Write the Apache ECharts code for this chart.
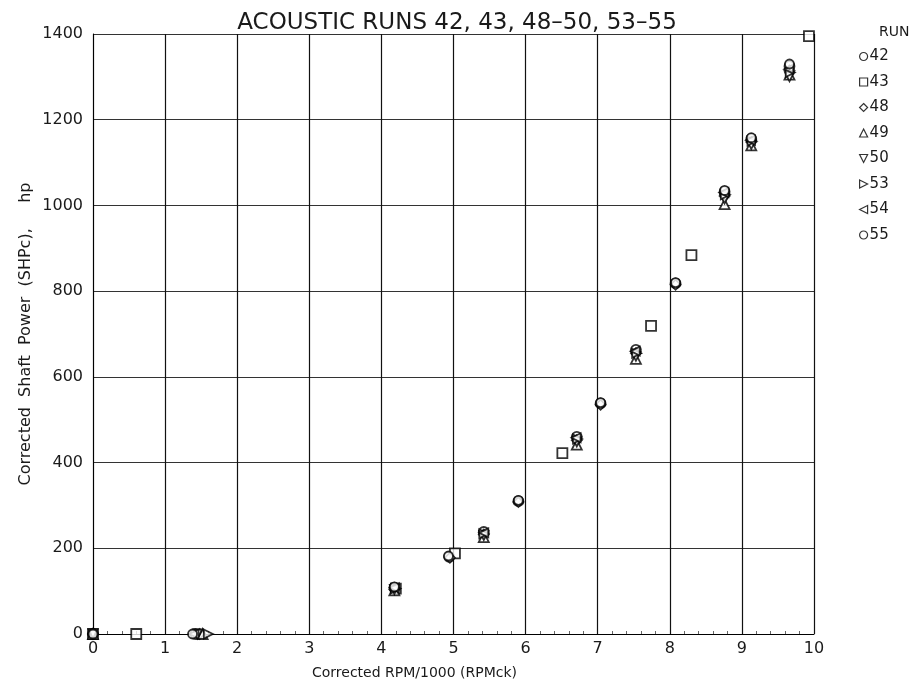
<!DOCTYPE html>
<html>
<head>
<meta charset="utf-8">
<script src="https://cdn.jsdelivr.net/npm/echarts@6/dist/echarts.min.js"></script>
<style>
  html, body { margin: 0; padding: 0; background: #fff; }
  #chart { width: 912px; height: 689px; }
</style>
</head>
<body>
<div id="chart"></div>
<script>
// run numbers, in legend order
const runs = ['42', '43', '48', '49', '50', '53', '54', '55'];

// [RPM/1000, SHPc], one list per run
const run42 = [[0, 0], [1.42, 0], [4.18, 108], [4.94, 180], [5.42, 238], [5.90, 310], [6.71, 460], [7.04, 538], [7.53, 663], [8.08, 818], [8.76, 1032], [9.13, 1155], [9.66, 1325]];
const run43 = [[0, 0], [0.60, 0], [4.20, 106], [5.02, 188], [6.51, 422], [7.74, 719], [8.30, 884], [9.93, 1395]];
const run48 = [[0, 0], [1.48, 0], [4.18, 104], [4.95, 178], [5.42, 232], [5.90, 308], [6.71, 452], [7.04, 535], [7.53, 655], [8.08, 815], [8.76, 1022], [9.13, 1148], [9.66, 1315]];
const run49 = [[0, 0], [1.52, 0], [4.18, 102], [5.42, 226], [6.71, 442], [7.53, 642], [8.76, 1003], [9.13, 1140], [9.66, 1305]];
const run50 = [[0, 0], [1.45, 0], [4.18, 104], [5.42, 230], [6.71, 448], [7.53, 648], [8.76, 1015], [9.13, 1142], [9.66, 1300]];
const run53 = [[1.60, 0], [4.20, 106], [5.42, 234], [6.72, 455], [7.54, 655], [8.77, 1025], [9.14, 1150], [9.67, 1310]];
const run54 = [[1.40, 0], [4.18, 108], [5.42, 236], [6.70, 458], [7.52, 660], [8.75, 1030], [9.12, 1152], [9.65, 1318]];
const run55 = [[0, 0], [1.38, 0], [4.18, 110], [4.93, 182], [5.90, 312], [7.04, 540], [8.08, 820], [8.76, 1035], [9.13, 1158], [9.66, 1330]];

const runData = [run42, run43, run48, run49, run50, run53, run54, run55];

const xTicks = [0, 1, 2, 3, 4, 5, 6, 7, 8, 9, 10];
const yTicks = [0, 200, 400, 600, 800, 1000, 1200, 1400];

const symbols = [
  'circle',
  'rect',
  'diamond',
  'triangle',
  'path://M0,0 L10,0 L5,10 Z',
  'path://M0,0 L10,5 L0,10 Z',
  'path://M10,0 L0,5 L10,10 Z',
  'circle'
];
const sizes = [10, 10, 10, 10, 9, 9, 9, 9];

const FONT = 'DejaVu Sans';
const INK = '#1a1a1a';

const chart = echarts.init(document.getElementById('chart'), null, { renderer: 'canvas' });

const series = runs.map((r, i) => ({
  name: r,
  type: 'scatter',
  data: runData[i],
  symbol: symbols[i],
  symbolSize: sizes[i],
  itemStyle: { color: '#fff', borderColor: '#000', borderWidth: 1.8 },
  emphasis: { disabled: true },
  z: 3
}));

chart.setOption({
  animation: false,
  backgroundColor: '#fff',
  title: [
    {
      text: 'ACOUSTIC RUNS 42, 43, 48\u201350, 53\u201355',
      left: 452,
      textAlign: 'center',
      top: 7,
      textStyle: { fontFamily: FONT, fontSize: 23, fontWeight: 'normal', color: INK }
    },
    {
      text: 'RUN',
      left: 874,
      top: 20,
      textStyle: { fontFamily: FONT, fontSize: 14, fontWeight: 'normal', color: INK }
    }
  ],
  legend: {
    orient: 'vertical',
    left: 854,
    top: 44,
    itemWidth: 8,
    itemHeight: 8,
    itemGap: 10.5,
    data: runs,
    textStyle: { fontFamily: FONT, fontSize: 15, color: INK, padding: [0, 0, 0, -3] },
    itemStyle: { color: '#fff', borderColor: '#000', borderWidth: 1.2 },
    selectedMode: false
  },
  grid: { left: 93, right: 98, top: 34, bottom: 55 },
  xAxis: {
    type: 'value',
    min: xTicks[0],
    max: xTicks[xTicks.length - 1],
    interval: 1,
    axisLine: { lineStyle: { color: '#000', width: 1 } },
    axisTick: { show: false },
    minorTick: { show: true, splitNumber: 5, length: -3, lineStyle: { color: '#666' } },
    axisLabel: { fontFamily: FONT, fontSize: 16, color: INK, margin: 7 },
    splitLine: { show: true, lineStyle: { color: '#111', width: 1.2 } }
  },
  yAxis: {
    type: 'value',
    min: yTicks[0],
    max: yTicks[yTicks.length - 1],
    interval: 200,
    axisLine: { show: true, lineStyle: { color: '#000', width: 1 } },
    axisTick: { show: false },
    axisLabel: { fontFamily: FONT, fontSize: 16, color: INK, margin: 10, formatter: v => String(v) },
    splitLine: { show: true, lineStyle: { color: '#333', width: 1 } }
  },
  graphic: [
    {
      type: 'text',
      left: 312,
      top: 666,
      style: { text: 'Corrected RPM/1000 (RPMck)', font: '14px "DejaVu Sans"', fill: INK }
    },
    {
      type: 'text',
      x: 26,
      y: 334,
      rotation: Math.PI / 2,
      style: {
        text: 'Corrected  Shaft  Power  (SHPc),     hp',
        font: '16px "DejaVu Sans"',
        fill: INK,
        align: 'center',
        verticalAlign: 'middle'
      }
    }
  ],
  series: series
});
</script>
</body>
</html>
